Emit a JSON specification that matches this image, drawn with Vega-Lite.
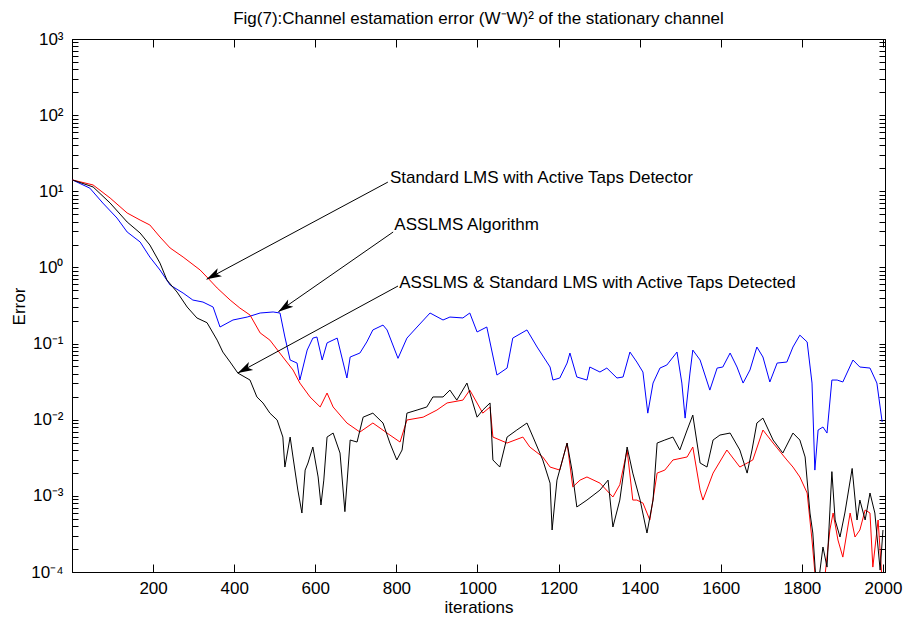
{
 "$schema": "https://vega.github.io/schema/vega-lite/v6.json",
 "width": 813,
 "height": 533,
 "autosize": {"type": "none"},
 "padding": {"left": 72, "top": 39, "right": 18, "bottom": 49},
 "background": "white",
 "config": {
  "view": {"stroke": "black", "strokeWidth": 1},
  "font": "Liberation Sans",
  "axis": {"grid": false, "domainColor": "black", "tickColor": "black", "labelColor": "black", "titleColor": "black", "labelFont": "Liberation Sans", "titleFont": "Liberation Sans", "labelFontSize": 17, "titleFontSize": 17, "titleFontWeight": "normal", "domainWidth": 1, "tickWidth": 1, "labelOverlap": false, "labelFlush": false, "labelBound": false}
 },
 "title": {"text": "Fig(7):Channel estamation error (W⁻W)² of the stationary channel", "font": "Liberation Sans", "fontSize": 17, "fontWeight": "normal", "color": "black", "anchor": "middle", "frame": "group", "baseline": "alphabetic", "offset": 12, "dy": 23},
 "datasets": {
  "blue": [{"it":1,"v":14.1},{"it":44,"v":11.0},{"it":76,"v":7.01},{"it":111,"v":4.45},{"it":136,"v":2.92},{"it":168,"v":2.16},{"it":192,"v":1.37},{"it":217,"v":0.925},{"it":242,"v":0.587},{"it":274,"v":0.461},{"it":298,"v":0.373},{"it":323,"v":0.351},{"it":348,"v":0.302},{"it":365,"v":0.165},{"it":397,"v":0.204},{"it":432,"v":0.223},{"it":464,"v":0.252},{"it":496,"v":0.26},{"it":513,"v":0.252},{"it":525,"v":0.122},{"it":538,"v":0.0608},{"it":555,"v":0.0555},{"it":562,"v":0.0332},{"it":580,"v":0.0822},{"it":594,"v":0.118},{"it":604,"v":0.122},{"it":617,"v":0.0608},{"it":629,"v":0.102},{"it":654,"v":0.118},{"it":678,"v":0.0353},{"it":686,"v":0.0666},{"it":710,"v":0.0751},{"it":727,"v":0.105},{"it":742,"v":0.151},{"it":767,"v":0.175},{"it":777,"v":0.151},{"it":804,"v":0.064},{"it":826,"v":0.118},{"it":851,"v":0.165},{"it":883,"v":0.252},{"it":915,"v":0.204},{"it":932,"v":0.223},{"it":964,"v":0.217},{"it":981,"v":0.252},{"it":999,"v":0.142},{"it":1023,"v":0.165},{"it":1048,"v":0.0386},{"it":1073,"v":0.0477},{"it":1087,"v":0.118},{"it":1122,"v":0.151},{"it":1147,"v":0.0901},{"it":1179,"v":0.0492},{"it":1186,"v":0.0332},{"it":1203,"v":0.0353},{"it":1221,"v":0.0555},{"it":1228,"v":0.0751},{"it":1245,"v":0.0364},{"it":1270,"v":0.0332},{"it":1277,"v":0.0492},{"it":1302,"v":0.0423},{"it":1319,"v":0.0477},{"it":1344,"v":0.0353},{"it":1359,"v":0.0364},{"it":1376,"v":0.0774},{"it":1393,"v":0.0572},{"it":1408,"v":0.0423},{"it":1420,"v":0.0122},{"it":1433,"v":0.0303},{"it":1450,"v":0.0477},{"it":1467,"v":0.0523},{"it":1492,"v":0.0774},{"it":1504,"v":0.0303},{"it":1512,"v":0.0105},{"it":1524,"v":0.041},{"it":1531,"v":0.0822},{"it":1549,"v":0.0608},{"it":1573,"v":0.0245},{"it":1591,"v":0.0477},{"it":1605,"v":0.0492},{"it":1623,"v":0.0751},{"it":1640,"v":0.0492},{"it":1655,"v":0.0303},{"it":1672,"v":0.045},{"it":1689,"v":0.0901},{"it":1704,"v":0.0666},{"it":1721,"v":0.0313},{"it":1739,"v":0.0555},{"it":1763,"v":0.0572},{"it":1778,"v":0.0901},{"it":1795,"v":0.129},{"it":1813,"v":0.105},{"it":1825,"v":0.0303},{"it":1832,"v":0.00218},{"it":1840,"v":0.00732},{"it":1852,"v":0.00802},{"it":1862,"v":0.00668},{"it":1874,"v":0.0332},{"it":1887,"v":0.0332},{"it":1901,"v":0.0313},{"it":1926,"v":0.0608},{"it":1943,"v":0.0492},{"it":1968,"v":0.0477},{"it":1985,"v":0.0303},{"it":1998,"v":0.00933}],
  "red": [{"it":1,"v":14.1},{"it":52,"v":12.1},{"it":94,"v":8.16},{"it":136,"v":5.19},{"it":168,"v":4.19},{"it":192,"v":3.61},{"it":217,"v":2.51},{"it":242,"v":1.8},{"it":274,"v":1.37},{"it":316,"v":0.925},{"it":335,"v":0.726},{"it":358,"v":0.537},{"it":390,"v":0.373},{"it":414,"v":0.293},{"it":439,"v":0.237},{"it":464,"v":0.138},{"it":488,"v":0.111},{"it":520,"v":0.0666},{"it":545,"v":0.045},{"it":562,"v":0.0303},{"it":587,"v":0.0199},{"it":612,"v":0.0147},{"it":629,"v":0.0224},{"it":644,"v":0.0147},{"it":678,"v":0.00905},{"it":710,"v":0.00689},{"it":742,"v":0.00905},{"it":784,"v":0.00629},{"it":809,"v":0.00509},{"it":826,"v":0.00991},{"it":866,"v":0.0108},{"it":900,"v":0.0134},{"it":925,"v":0.0166},{"it":964,"v":0.0181},{"it":981,"v":0.0245},{"it":1013,"v":0.0122},{"it":1031,"v":0.0147},{"it":1038,"v":0.00592},{"it":1073,"v":0.00494},{"it":1112,"v":0.00592},{"it":1129,"v":0.00438},{"it":1161,"v":0.00324},{"it":1179,"v":0.00239},{"it":1203,"v":0.00218},{"it":1221,"v":0.00494},{"it":1235,"v":0.00131},{"it":1253,"v":0.00161},{"it":1270,"v":0.00177},{"it":1302,"v":0.00147},{"it":1334,"v":0.000966},{"it":1351,"v":0.0014},{"it":1369,"v":0.004},{"it":1383,"v":0.000881},{"it":1393,"v":0.000881},{"it":1408,"v":0.000805},{"it":1425,"v":0.000482},{"it":1443,"v":0.00199},{"it":1462,"v":0.00218},{"it":1482,"v":0.00296},{"it":1517,"v":0.00324},{"it":1531,"v":0.00438},{"it":1549,"v":0.00119},{"it":1556,"v":0.000881},{"it":1581,"v":0.00199},{"it":1615,"v":0.004},{"it":1647,"v":0.00239},{"it":1679,"v":0.00296},{"it":1704,"v":0.00732},{"it":1729,"v":0.00494},{"it":1763,"v":0.00296},{"it":1778,"v":0.00239},{"it":1795,"v":0.00177},{"it":1813,"v":0.00109},{"it":1825,"v":0.000263},{"it":1837,"v":0.00005},{"it":1852,"v":0.00005},{"it":1869,"v":0.000356},{"it":1877,"v":0.000595},{"it":1889,"v":0.000263},{"it":1901,"v":0.000157},{"it":1919,"v":0.000595},{"it":1931,"v":0.000288},{"it":1943,"v":0.000356},{"it":1956,"v":0.000652},{"it":1968,"v":0.000595},{"it":1975,"v":0.000116},{"it":1988,"v":0.000482},{"it":2000,"v":0.00005}],
  "black": [{"it":1,"v":14.1},{"it":52,"v":11.4},{"it":94,"v":7.01},{"it":136,"v":3.95},{"it":168,"v":2.83},{"it":192,"v":1.97},{"it":217,"v":1.14},{"it":234,"v":0.684},{"it":259,"v":0.475},{"it":284,"v":0.302},{"it":308,"v":0.217},{"it":333,"v":0.188},{"it":358,"v":0.111},{"it":372,"v":0.0774},{"it":390,"v":0.0572},{"it":409,"v":0.041},{"it":439,"v":0.0332},{"it":456,"v":0.0199},{"it":471,"v":0.0166},{"it":488,"v":0.0122},{"it":506,"v":0.0099},{"it":520,"v":0.00592},{"it":525,"v":0.00239},{"it":538,"v":0.00592},{"it":545,"v":0.00324},{"it":557,"v":0.00119},{"it":567,"v":0.000595},{"it":575,"v":0.00218},{"it":582,"v":0.0027},{"it":594,"v":0.00438},{"it":607,"v":0.00177},{"it":614,"v":0.000758},{"it":621,"v":0.00161},{"it":629,"v":0.00592},{"it":644,"v":0.00668},{"it":661,"v":0.00365},{"it":673,"v":0.00062},{"it":686,"v":0.00541},{"it":703,"v":0.00509},{"it":718,"v":0.0108},{"it":742,"v":0.0122},{"it":767,"v":0.00905},{"it":784,"v":0.00494},{"it":801,"v":0.00296},{"it":814,"v":0.004},{"it":826,"v":0.0122},{"it":851,"v":0.0134},{"it":875,"v":0.0147},{"it":890,"v":0.0199},{"it":915,"v":0.0199},{"it":932,"v":0.0245},{"it":949,"v":0.0181},{"it":974,"v":0.0303},{"it":999,"v":0.0108},{"it":1013,"v":0.0134},{"it":1031,"v":0.0166},{"it":1038,"v":0.00296},{"it":1055,"v":0.00239},{"it":1073,"v":0.00592},{"it":1097,"v":0.00732},{"it":1122,"v":0.00905},{"it":1137,"v":0.00592},{"it":1161,"v":0.00296},{"it":1179,"v":0.00147},{"it":1184,"v":0.000356},{"it":1196,"v":0.00161},{"it":1221,"v":0.00494},{"it":1233,"v":0.00218},{"it":1245,"v":0.000714},{"it":1270,"v":0.000881},{"it":1302,"v":0.00119},{"it":1322,"v":0.00161},{"it":1334,"v":0.00039},{"it":1351,"v":0.000881},{"it":1369,"v":0.00438},{"it":1383,"v":0.00199},{"it":1401,"v":0.000881},{"it":1418,"v":0.000325},{"it":1433,"v":0.000881},{"it":1443,"v":0.00494},{"it":1462,"v":0.00541},{"it":1482,"v":0.00592},{"it":1499,"v":0.004},{"it":1517,"v":0.00732},{"it":1531,"v":0.0115},{"it":1549,"v":0.0027},{"it":1566,"v":0.00239},{"it":1581,"v":0.00541},{"it":1598,"v":0.00629},{"it":1623,"v":0.00668},{"it":1647,"v":0.004},{"it":1665,"v":0.00199},{"it":1677,"v":0.004},{"it":1689,"v":0.00905},{"it":1704,"v":0.0105},{"it":1729,"v":0.00541},{"it":1753,"v":0.00365},{"it":1778,"v":0.00668},{"it":1795,"v":0.00541},{"it":1808,"v":0.00324},{"it":1820,"v":0.000595},{"it":1827,"v":0.000325},{"it":1837,"v":0.00005},{"it":1852,"v":0.000213},{"it":1862,"v":0.000116},{"it":1874,"v":0.00208},{"it":1882,"v":0.000482},{"it":1894,"v":0.000288},{"it":1906,"v":0.000595},{"it":1924,"v":0.00229},{"it":1936,"v":0.000482},{"it":1943,"v":0.000881},{"it":1956,"v":0.000482},{"it":1968,"v":0.00109},{"it":1980,"v":0.000595},{"it":1993,"v":0.000106},{"it":2000,"v":0.000356}],
  "notes": [
   {"id":1,"label":"Standard LMS with Active Taps Detector","tx":784,"ty":14.9,"x1":779,"y1":13.2,"x2":332,"y2":0.698},
   {"id":2,"label":"ASSLMS Algorithm","tx":795,"ty":3.61,"x1":792,"y1":2.92,"x2":509,"y2":0.262},
   {"id":3,"label":"ASSLMS & Standard LMS with Active Taps Detected","tx":807,"ty":0.624,"x1":804,"y1":0.57,"x2":409,"y2":0.041}
  ]
 },
 "encoding": {
  "x": {"type": "quantitative", "scale": {"domain": [0, 2005], "nice": false, "zero": false}},
  "y": {"type": "quantitative", "scale": {"type": "log", "domain": [0.0001, 1000], "nice": false}}
 },
 "layer": [
  {
   "data": {"name": "blue"},
   "mark": {"type": "line", "color": "#0000ff", "strokeWidth": 1, "clip": true},
   "encoding": {
    "x": {"field": "it", "type": "quantitative",
     "axis": {"orient": "bottom", "values": [200,400,600,800,1000,1200,1400,1600,1800,2000], "format": "d", "tickSize": -8, "labelPadding": 24, "labelBaseline": "middle", "title": "iterations", "titleX": 406.5, "titleY": 35, "titleAlign": "center", "titleBaseline": "middle"}},
    "y": {"field": "v", "type": "quantitative",
     "axis": {"orient": "left", "values": [0.0001,0.0002,0.0003,0.0004,0.0005,0.0006,0.0007,0.0008,0.0009,0.001,0.002,0.003,0.004,0.005,0.006,0.007,0.008,0.009,0.01,0.02,0.03,0.04,0.05,0.06,0.07,0.08,0.09,0.1,0.2,0.3,0.4,0.5,0.6,0.7,0.8,0.9,1,2,3,4,5,6,7,8,9,10,20,30,40,50,60,70,80,90,100,200,300,400,500,600,700,800,900,1000],
      "labelExpr": "abs(log(datum.value)/LN10 - round(log(datum.value)/LN10)) < 0.001 ? '10' + replace(replace(replace(replace(replace(replace(toString(round(log(datum.value)/LN10)),'-','⁻'),'0','⁰'),'1','¹'),'2','²'),'3','³'),'4','⁴') : ''",
      "tickSize": -6, "labelPadding": 15, "labelAlign": "right", "labelBaseline": "middle", "title": "Error", "titleAngle": -90, "titleX": -53, "titleY": 267, "titleAlign": "center", "titleBaseline": "middle"}}
   }
  },
  {
   "data": {"name": "red"},
   "mark": {"type": "line", "color": "#ff0000", "strokeWidth": 1, "clip": true},
   "encoding": {
    "x": {"field": "it", "type": "quantitative", "axis": {"orient": "top", "values": [200,400,600,800,1000,1200,1400,1600,1800,2000], "tickSize": -8, "labels": false, "title": null}},
    "y": {"field": "v", "type": "quantitative", "axis": {"orient": "right", "values": [0.0001,0.0002,0.0003,0.0004,0.0005,0.0006,0.0007,0.0008,0.0009,0.001,0.002,0.003,0.004,0.005,0.006,0.007,0.008,0.009,0.01,0.02,0.03,0.04,0.05,0.06,0.07,0.08,0.09,0.1,0.2,0.3,0.4,0.5,0.6,0.7,0.8,0.9,1,2,3,4,5,6,7,8,9,10,20,30,40,50,60,70,80,90,100,200,300,400,500,600,700,800,900,1000], "tickSize": -6, "labels": false, "title": null}}
   }
  },
  {
   "data": {"name": "black"},
   "mark": {"type": "line", "color": "#000000", "strokeWidth": 1, "clip": true},
   "encoding": {"x": {"field": "it", "type": "quantitative", "axis": null}, "y": {"field": "v", "type": "quantitative", "axis": null}}
  },
  {
   "data": {"name": "notes"},
   "mark": {"type": "rule", "color": "black", "strokeWidth": 1},
   "encoding": {"x": {"field": "x1", "type": "quantitative", "axis": null}, "y": {"field": "y1", "type": "quantitative", "axis": null}, "x2": {"field": "x2"}, "y2": {"field": "y2"}}
  },
  {
   "data": {"name": "notes"},
   "mark": {"type": "text", "align": "left", "baseline": "middle", "font": "Liberation Sans", "fontSize": 17, "color": "black"},
   "encoding": {"x": {"field": "tx", "type": "quantitative", "axis": null}, "y": {"field": "ty", "type": "quantitative", "axis": null}, "text": {"field": "label"}}
  },
  {
   "data": {"name": "notes"},
   "transform": [{"filter": "datum.id != 2"}],
   "mark": {"type": "point", "shape": "M0,0L-0.3,1L0,0.75L0.3,1Z", "filled": true, "color": "black", "opacity": 1, "size": 900, "angle": 241.7, "strokeWidth": 0},
   "encoding": {"x": {"field": "x2", "type": "quantitative", "axis": null}, "y": {"field": "y2", "type": "quantitative", "axis": null}}
  },
  {
   "data": {"name": "notes"},
   "transform": [{"filter": "datum.id == 2"}],
   "mark": {"type": "point", "shape": "M0,0L-0.3,1L0,0.75L0.3,1Z", "filled": true, "color": "black", "opacity": 1, "size": 900, "angle": 235.2, "strokeWidth": 0},
   "encoding": {"x": {"field": "x2", "type": "quantitative", "axis": null}, "y": {"field": "y2", "type": "quantitative", "axis": null}}
  }
 ],
 "resolve": {"axis": {"x": "independent", "y": "independent"}}
}
